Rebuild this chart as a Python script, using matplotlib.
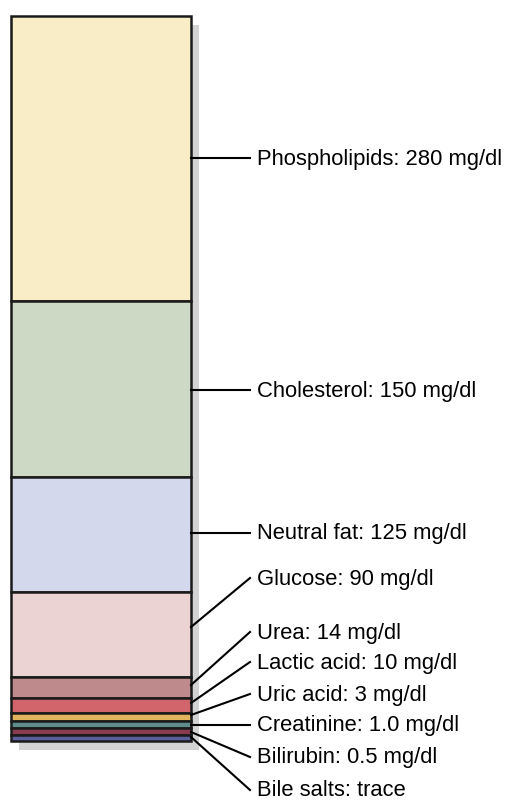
import matplotlib.pyplot as plt
import numpy as np

plt.rcParams['font.family'] = ['Liberation Sans', 'DejaVu Sans']

# 成分 (上から順)
names = ['Phospholipids', 'Cholesterol', 'Neutral fat', 'Glucose', 'Urea',
         'Lactic acid', 'Uric acid', 'Creatinine', 'Bilirubin', 'Bile salts']
amounts = ['280 mg/dl', '150 mg/dl', '125 mg/dl', '90 mg/dl', '14 mg/dl',
           '10 mg/dl', '3 mg/dl', '1.0 mg/dl', '0.5 mg/dl', 'trace']
# 図の上での帯の高さ (値に比例していない)
band_heights = [285, 176, 115, 85, 21, 15, 8, 7, 7, 6]
colors = ['#F8EDC6', '#CDD9C5', '#D3D8EC', '#EBD3D4', '#BE8A8B',
          '#D2646C', '#E2B55C', '#5F8C8C', '#8A3B50', '#5A5E9B']
# ラベルの縦位置と引き出し線の始点
label_y = [159, 391, 534, 579, 633, 663, 695, 726, 758, 791]
anchor_y = [158, 390, 533, 627, 685, 703, 715, 725, 732, 737]

fig = plt.figure(figsize=(5.07, 8.07), dpi=100)
ax = fig.add_axes([0, 0, 1, 1])
ax.set_xlim(0, 507)
ax.set_ylim(807, 0)
ax.axis('off')

top = 16
left, right = 11, 191
bottoms = top + np.concatenate([[0], np.cumsum(band_heights)[:-1]])
total = sum(band_heights)

# 影
ax.bar((left + right) / 2 + 8, total, width=right - left, bottom=top + 9,
       color='#D3D3D3', edgecolor='none', zorder=1)

# 積み上げ棒
ax.bar([(left + right) / 2] * len(names), band_heights, width=right - left,
       bottom=bottoms, color=colors, edgecolor='#1a1a1a', linewidth=1.8, zorder=2)

# 引き出し線とラベル
for n, a, ly, ay in zip(names, amounts, label_y, anchor_y):
    ax.plot([right, 250], [ay, ly - 1], color='black', lw=1.5, zorder=3)
    ax.text(257, ly, f'{n}: {a}', fontsize=15.8, va='center', ha='left')

fig.savefig('out.png', dpi=100)
